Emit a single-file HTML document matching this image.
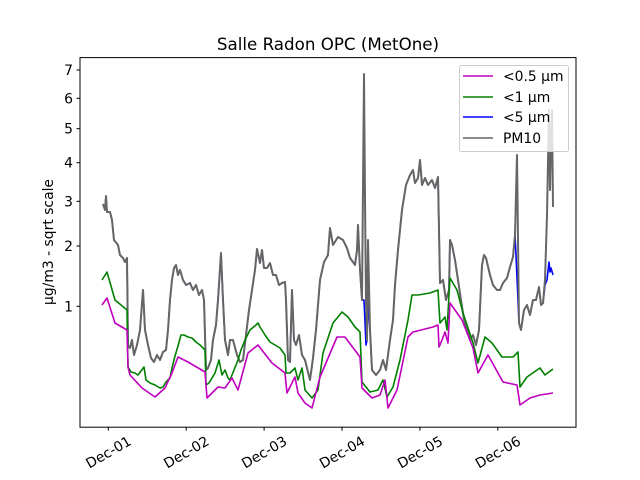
<!DOCTYPE html>
<html><head><meta charset="utf-8"><style>body{margin:0;background:#fff}svg{display:block}text{font-family:"DejaVu Sans","Liberation Sans",sans-serif;fill:#000}</style></head>
<body>
<svg width="640" height="480" viewBox="0 0 640 480" xmlns="http://www.w3.org/2000/svg">
<rect width="640" height="480" fill="#fff"/>
<text x="328" y="50" font-size="16.7" text-anchor="middle">Salle Radon OPC (MetOne)</text>
<g fill="none" stroke-linejoin="round" stroke-width="1.6">
<polyline stroke="#0000ff" points="103,204 105,210 106,196 107,212 110,212 112,220 114,240 118,245 120,255 123,258 125,262 127,258 128,345 130,348 132,340 134,355 137,345 140,330 143,290 145,330 148,345 151,358 154,362 157,355 160,360 163,352 166,350 168,330 170,300 172,280 174,268 176,265 178,275 180,270 183,280 186,285 190,283 193,290 196,285 199,295 202,290 204,300 206,370 208,368 211,360 213,340 216,325 218,300 221,253 223,300 225,340 228,355 230,340 233,340 237,355 240,362 243,360 246,335 249,310 252,290 255,270 257,249 260,263 262,250 264,268 267,268 270,263 273,275 276,275 279,285 282,283 285,282 286,300 288,360 290,362 292,290 294,340 296,345 299,335 302,355 305,360 310,380 313,358 316,330 320,280 324,262 328,255 330,228 333,245 338,237 343,240 347,248 350,258 353,262 355,265 357,250 358,225 360,270 362,300 364,300 366,345 367,340 368,300 370,330 372,370 376,375 380,370 383,360 386,370 390,340 393,320 395,285 398,250 402,210 406,185 410,175 413,170 415,183 418,178 420,160 422,185 425,178 428,185 432,180 435,188 438,177 440,283 443,280 446,300 449,290 450,240 452,245 455,260 458,280 461,300 464,320 467,330 470,340 473,335 476,345 479,330 482,265 484,255 486,258 490,275 493,285 497,290 500,290 503,283 507,278 510,267 513,257 515,235 516,255 519,323 521,330 524,310 527,305 530,315 533,300 536,300 539,287 541,305 543,303 545,285 547,280 549,262 550,272 551,268 553,275"/>
<polyline stroke="#666" stroke-width="2" points="103,204 105,210 106,196 107,212 110,212 112,220 114,240 118,245 120,255 123,258 125,262 127,258 128,345 130,348 132,340 134,355 137,345 140,330 143,290 145,330 148,345 151,358 154,362 157,355 160,360 163,352 166,350 168,330 170,300 172,280 174,268 176,265 178,275 180,270 183,280 186,285 190,283 193,290 196,285 199,295 202,290 204,300 206,370 208,368 211,360 213,340 216,325 218,300 221,253 223,300 225,340 228,355 230,340 233,340 237,355 240,362 243,360 246,335 249,310 252,290 255,270 257,249 260,263 262,250 264,268 267,268 270,263 273,275 276,275 279,285 282,283 285,282 286,300 288,360 290,362 292,290 294,340 296,345 299,335 302,355 305,360 310,380 313,358 316,330 320,280 324,262 328,255 330,228 333,245 338,237 343,240 347,248 350,258 353,262 355,265 357,250 358,225 360,270 362,300 364,74 365,200 366,300 367,340 368,240 370,330 372,370 376,375 380,370 383,360 386,370 390,340 393,320 395,285 398,250 402,210 406,185 410,175 413,170 415,183 418,178 420,160 422,185 425,178 428,185 432,180 435,188 438,177 440,283 443,280 446,300 449,290 450,240 452,245 455,260 458,280 461,300 464,320 467,330 470,340 473,335 476,345 479,330 482,265 484,255 486,258 490,275 493,285 497,290 500,290 503,283 507,278 510,267 513,257 515,235 517,155 519,323 521,330 524,310 527,305 530,315 533,300 536,300 539,287 541,305 543,303 545,280 547,215 549,110 550,190 551,140 552,110 553,207"/>
<polyline stroke="#008000" points="102,280 107,272 115,300 127,310 128,367 131,372 135,373 138,375 144,367 146,380 150,383 155,385 160,388 163,387 166,382 170,378 172,368 175,356 178,346 181,335 184,335 188,337 192,338 196,342 200,345 205,350 206,385 209,383 212,378 215,373 219,360 222,375 225,370 228,378 230,380 234,370 238,360 241,350 245,340 250,330 256,325 258,323 260,327 265,335 270,342 280,348 285,355 286,373 290,373 295,368 298,380 302,368 305,390 312,398 318,390 323,353 333,323 342,312 348,317 355,327 360,332 362,382 370,392 378,390 383,380 387,397 393,387 400,360 408,320 412,295 418,295 430,293 438,290 439,307 440,323 445,317 447,330 450,278 457,290 463,313 473,343 478,363 485,337 492,343 502,357 513,357 518,352 520,387 527,377 540,368 545,375 553,369"/>
<polyline stroke="#bf00bf" points="102,305 107,298 115,323 127,330 128,367 130,375 142,388 155,397 165,388 172,373 178,357 188,362 205,372 207,398 218,387 225,388 232,378 238,390 248,353 258,345 272,363 285,373 287,393 295,377 298,393 305,403 312,408 320,377 337,337 345,337 360,357 362,388 372,398 380,395 385,380 388,408 397,390 408,337 413,332 433,327 438,325 439,347 442,340 445,332 448,343 450,303 462,320 473,348 478,373 488,355 503,382 517,385 520,405 530,398 540,395 553,393"/>
</g>
<rect x="80" y="57.6" width="496" height="369.6" fill="none" stroke="#000" stroke-width="1"/>
<g stroke="#000" stroke-width="1">
<line x1="80" y1="70" x2="76.5" y2="70"/><line x1="80" y1="98.3" x2="76.5" y2="98.3"/><line x1="80" y1="128.7" x2="76.5" y2="128.7"/><line x1="80" y1="162.7" x2="76.5" y2="162.7"/><line x1="80" y1="201.3" x2="76.5" y2="201.3"/><line x1="80" y1="246" x2="76.5" y2="246"/><line x1="80" y1="306.3" x2="76.5" y2="306.3"/>
<line x1="108.3" y1="427.2" x2="108.3" y2="430.7"/><line x1="186.2" y1="427.2" x2="186.2" y2="430.7"/><line x1="264.1" y1="427.2" x2="264.1" y2="430.7"/><line x1="342" y1="427.2" x2="342" y2="430.7"/><line x1="419.9" y1="427.2" x2="419.9" y2="430.7"/><line x1="497.8" y1="427.2" x2="497.8" y2="430.7"/>
</g>
<g font-size="13.9" text-anchor="end">
<text x="73" y="75">7</text><text x="73" y="103.3">6</text><text x="73" y="133.7">5</text><text x="73" y="167.7">4</text><text x="73" y="206.3">3</text><text x="73" y="251">2</text><text x="73" y="311.3">1</text>
</g>
<g font-size="13.9" text-anchor="middle">
<text transform="translate(108.3,452) rotate(-30)" y="5">Dec-01</text>
<text transform="translate(186.2,452) rotate(-30)" y="5">Dec-02</text>
<text transform="translate(264.1,452) rotate(-30)" y="5">Dec-03</text>
<text transform="translate(342,452) rotate(-30)" y="5">Dec-04</text>
<text transform="translate(419.9,452) rotate(-30)" y="5">Dec-05</text>
<text transform="translate(497.8,452) rotate(-30)" y="5">Dec-06</text>
</g>
<text transform="translate(53,242) rotate(-90)" font-size="13.9" text-anchor="middle">µg/m3 - sqrt scale</text>
<rect x="459.5" y="65.5" width="109" height="86" rx="2" fill="#fff" fill-opacity="0.8" stroke="#ccc" stroke-width="1"/>
<g stroke-width="1.6">
<line x1="463" y1="76" x2="493" y2="76" stroke="#bf00bf"/>
<line x1="463" y1="97" x2="493" y2="97" stroke="#008000"/>
<line x1="463" y1="117" x2="493" y2="117" stroke="#0000ff"/>
<line x1="463" y1="138" x2="493" y2="138" stroke="#666"/>
</g>
<g font-size="13.9">
<text x="503" y="81">&lt;0.5 µm</text><text x="503" y="102">&lt;1 µm</text><text x="503" y="122">&lt;5 µm</text><text x="503" y="143">PM10</text>
</g>
</svg>
</body></html>
